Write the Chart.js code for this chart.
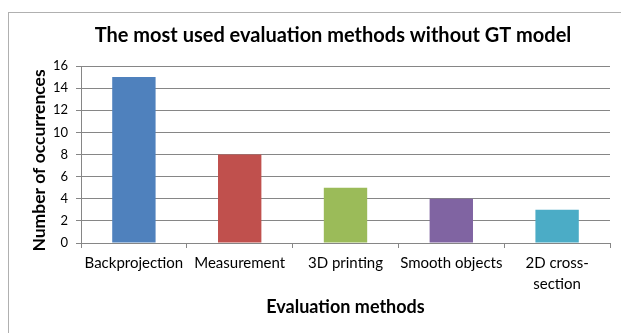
<!DOCTYPE html>
<html>
<head>
<meta charset="utf-8">
<script src="https://cdn.jsdelivr.net/npm/chart.js@4/dist/chart.umd.min.js"></script>
<style>
  html, body { margin: 0; padding: 0; background: #fff; }
  #wrap { width: 621px; height: 333px; position: relative; }
</style>
</head>
<body>
<div id="wrap"><canvas id="chart"></canvas></div>
<script>
const chartTitle = 'The most used evaluation methods without GT model';
const yTitle = 'Number of occurrences';
const xTitle = 'Evaluation methods';
const categories = ['Backprojection', 'Measurement', '3D printing', 'Smooth objects', ['2D cross-', 'section']];
const occurrences = [15, 8, 5, 4, 3];
const barColors = ['#4F81BD', '#C0504D', '#9BBB59', '#8064A2', '#4BACC6'];

// light frame around the whole chart + the titles, placed like the office export
const framePlugin = {
    id: 'frame',
    beforeDraw(chart) {
        const ctx = chart.ctx;
        ctx.save();
        ctx.fillStyle = '#fff';
        ctx.fillRect(0, 0, chart.width, chart.height);
        ctx.strokeStyle = '#b0b0b0';
        ctx.lineWidth = 1;
        ctx.strokeRect(8.5, 12.5, 640, 340);
        ctx.restore();
    },
    afterDraw(chart) {
        const ctx = chart.ctx;
        ctx.save();
        ctx.fillStyle = '#000';
        ctx.textAlign = 'center';
        ctx.textBaseline = 'middle';
        ctx.font = 'bold 20px Lato';
        ctx.fillText(chartTitle, 333, 36);
        // rotated y axis title (sits a bit below the plot centre in the original)
        ctx.font = 'bold 17.5px Lato';
        ctx.translate(39, 160.5);
        ctx.rotate(-Math.PI / 2);
        ctx.fillText(yTitle, 0, 0);
        ctx.restore();
    }
};

new Chart(document.getElementById('chart'), {
    type: 'bar',
    data: {
        labels: categories,
        datasets: [{
            data: occurrences,
            backgroundColor: barColors,
            barPercentage: 0.41,
            categoryPercentage: 1
        }]
    },
    options: {
        responsive: true,
        maintainAspectRatio: false,
        animation: false,
        layout: { padding: { left: 0, right: 11, top: 66, bottom: 0 } },
        plugins: {
            legend: { display: false },
            tooltip: { enabled: false },
            title: { display: false }
        },
        scales: {
            x: {
                afterFit: (s) => { s.height = 90; },
                grid: {
                    offset: true,
                    drawOnChartArea: false,
                    color: '#868686',
                    tickLength: 5
                },
                border: { color: '#868686' },
                ticks: {
                    color: '#000',
                    font: { family: 'Lato', size: 15, lineHeight: 1.4 },
                    maxRotation: 0,
                    autoSkip: false,
                    padding: 5
                },
                title: {
                    display: true,
                    text: xTitle,
                    color: '#000',
                    font: { family: 'Lato', size: 18, weight: 'bold' },
                    padding: { top: 0, bottom: 15 }
                }
            },
            y: {
                min: 0,
                max: 16,
                afterFit: (s) => { s.width = 81; },
                grid: { color: '#868686', tickLength: 5 },
                border: { color: '#868686' },
                ticks: {
                    stepSize: 2,
                    color: '#000',
                    font: { family: 'Lato', size: 13 },
                    padding: 8
                },
                title: { display: false }
            }
        }
    },
    plugins: [framePlugin]
});
</script>
</body>
</html>
